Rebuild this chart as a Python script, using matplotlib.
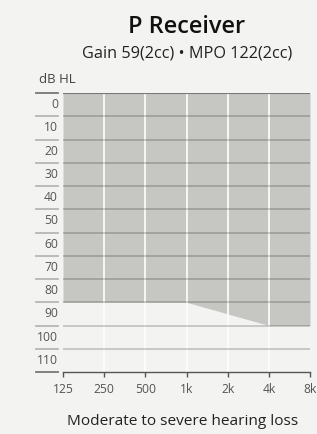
import matplotlib.pyplot as plt
import matplotlib.transforms as mtransforms

# dados do audiograma
freqs = [125, 250, 500, 1000, 2000, 4000, 8000]
freq_labels = ['125', '250', '500', '1k', '2k', '4k', '8k']
fit_bottom = [90, 90, 90, 90, 95, 100, 100]   # limite inferior da faixa (dB HL)
db_levels = list(range(0, 130, 10))

title = 'P Receiver'
subtitle = 'Gain 59(2cc) \u2022 MPO 122(2cc)'
caption = 'Moderate to severe hearing loss'

plt.rcParams['font.family'] = ['Open Sans', 'DejaVu Sans']

bg = '#f3f3f1'
fig = plt.figure(figsize=(3.17, 4.35), dpi=100, facecolor=bg)
ax = fig.add_axes([63 / 317, 1 - 373 / 435, 247 / 317, 279 / 435], facecolor=bg)

ax.set_xscale('log', base=2)
ax.set_xlim(125, 8000)
ax.set_ylim(120, 0)

# faixa de adaptacao
ax.fill_between(freqs, 0, fit_bottom, color='#c6c6c2', linewidth=0, zorder=1)

# linhas verticais brancas
for f in freqs[1:-1]:
    ax.axvline(f, color='white', lw=1.2, zorder=2)

# linhas horizontais
for v in db_levels[1:-1]:
    ax.axhline(v, color='black', alpha=0.23, lw=1.1, zorder=3)
ax.axhline(0, color='#777777', lw=1.5, zorder=4)

# tracos e rotulos do eixo y
tr = mtransforms.blended_transform_factory(ax.transAxes, ax.transData)
for v in db_levels:
    c = '#777777' if v in (0, 120) else '#b5b5b5'
    ax.plot([-0.109, -0.02], [v, v], color=c, lw=1.3, transform=tr, clip_on=False)
    if v < 120:
        ax.text(-0.02, v + 4.6, str(v), transform=tr, ha='right', va='center',
                fontsize=8.7, color='#555555')

for s in ['top', 'left', 'right']:
    ax.spines[s].set_visible(False)
ax.spines['bottom'].set_color('#555555')
ax.spines['bottom'].set_linewidth(1.0)
ax.spines['bottom'].set_zorder(5)

ax.set_yticks([])
ax.set_xticks(freqs)
ax.set_xticklabels(freq_labels)
ax.minorticks_off()
ax.tick_params(axis='x', direction='out', length=3.5, width=1, color='#555555',
               labelsize=8.7, labelcolor='#555555', pad=4)

fig.text(39 / 317, 1 - 83 / 435, 'dB HL', fontsize=9.5, color='#444444',
         ha='left', va='baseline')
fig.text(187 / 317, 1 - 33 / 435, title, fontsize=17, fontweight='semibold',
         color='#111111', ha='center', va='baseline')
fig.text(187 / 317, 1 - 57 / 435, subtitle, fontsize=11.7, color='#222222',
         ha='center', va='baseline')
fig.text(183 / 317, 1 - 425 / 435, caption, fontsize=11.1, color='#222222',
         ha='center', va='baseline')

fig.savefig('out.png', dpi=100, facecolor=bg)
